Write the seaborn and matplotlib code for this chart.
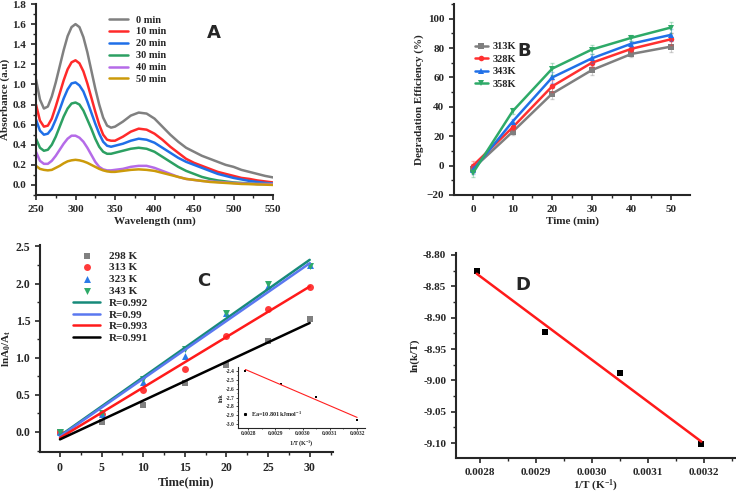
import numpy as np
import pandas as pd
import matplotlib
matplotlib.use("Agg")
import matplotlib.pyplot as plt
import seaborn as sns
from matplotlib.ticker import AutoMinorLocator

sns.set_style("ticks")
plt.rcParams['font.family'] = ['Liberation Serif', 'DejaVu Serif']
plt.rcParams['font.weight'] = 'bold'
plt.rcParams['axes.labelweight'] = 'bold'
plt.rcParams['mathtext.default'] = 'regular'

# ---------- Panel A data ----------
wavelength = list(range(250, 350, 5)) + list(range(350, 551, 10))
abs_0 = [1.05,0.85,0.76,0.78,0.88,1.02,1.18,1.34,1.48,1.57,1.60,1.57,1.47,1.32,1.14,0.96,0.80,0.67,0.59,0.57,
         0.58,0.63,0.69,0.72,0.71,0.66,0.58,0.50,0.43,0.37,0.33,0.29,0.26,0.23,0.20,0.18,0.15,0.13,0.11,0.09,0.075]
abs_10 = [0.80,0.64,0.58,0.59,0.66,0.78,0.91,1.04,1.15,1.22,1.24,1.21,1.13,1.01,0.87,0.73,0.60,0.50,0.45,0.44,
          0.44,0.48,0.53,0.56,0.55,0.51,0.45,0.38,0.32,0.26,0.22,0.19,0.16,0.13,0.11,0.09,0.07,0.06,0.045,0.035,0.025]
abs_20 = [0.65,0.54,0.50,0.51,0.56,0.65,0.75,0.86,0.95,1.01,1.02,0.99,0.93,0.83,0.72,0.61,0.51,0.43,0.39,0.38,
          0.39,0.41,0.44,0.46,0.45,0.42,0.37,0.32,0.27,0.23,0.20,0.17,0.14,0.11,0.09,0.07,0.055,0.04,0.03,0.02,0.015]
abs_30 = [0.46,0.37,0.34,0.35,0.40,0.48,0.58,0.68,0.76,0.81,0.82,0.80,0.74,0.65,0.56,0.46,0.38,0.33,0.31,0.31,
          0.32,0.34,0.36,0.37,0.36,0.33,0.28,0.23,0.18,0.14,0.11,0.08,0.06,0.045,0.035,0.025,0.02,0.015,0.01,0.01,0.01]
abs_40 = [0.33,0.24,0.21,0.21,0.24,0.29,0.35,0.41,0.46,0.49,0.49,0.47,0.43,0.37,0.30,0.23,0.18,0.155,0.145,0.145,
          0.15,0.16,0.18,0.19,0.19,0.17,0.14,0.11,0.08,0.06,0.05,0.04,0.035,0.03,0.025,0.02,0.015,0.012,0.01,0.01,0.01]
abs_50 = [0.19,0.16,0.15,0.145,0.15,0.17,0.19,0.215,0.235,0.245,0.25,0.245,0.235,0.22,0.20,0.18,0.16,0.145,0.135,0.13,
          0.13,0.14,0.15,0.155,0.15,0.14,0.12,0.10,0.08,0.06,0.05,0.04,0.03,0.025,0.02,0.015,0.01,0.008,0.005,0.003,0.0]
a_labels = ["0 min","10 min","20 min","30 min","40 min","50 min"]
a_colors = ["#808080","#ff2a2a","#1f6fe8","#2ca062","#b56be8","#cc9a0a"]

# ---------- Panel B data ----------
b_time = [0,10,20,30,40,50]
b_313 = [-2,23,49,65,76,81]
b_328 = [0,26,54,70,79.5,86]
b_343 = [-3,30,60,73,83,89]
b_358 = [-5,37,66,79,87,94]
b_err = [3,2,4,3,2,4]
b_labels = ["313K","328K","343K","358K"]
b_colors = ["#7f7f7f","#ff3030","#2070e8","#2eaa68"]
b_markers = ["s","o","^","v"]

# ---------- Panel C data ----------
c_time = [0,5,10,15,20,25,30]
c_298 = [0,0.13,0.37,0.66,0.90,1.22,1.52]
c_313 = [0,0.24,0.56,0.85,1.30,1.66,1.96]
c_323 = [0,0.24,0.68,1.03,1.60,1.97,2.25]
c_343 = [0,0.26,0.71,1.12,1.61,1.99,2.24]
c_labels = ["298 K","313 K","323 K","343 K"]
c_pt_colors = ["#808080","#ff3a3a","#2a7ae8","#2eaa68"]
c_markers = ["s","o","^","v"]
fit_labels = ["R=0.992","R=0.99","R=0.993","R=0.991"]
fit_colors = ["#178a7a","#5a78f0","#ff1a1a","#000000"]
fit_slope = [0.079,0.0778,0.068,0.0523]
fit_icpt = [-0.05,-0.06,-0.08,-0.10]
fit_x = [0,30]

# inset
ins_x = [0.00279,0.00292,0.00305,0.00320]
ins_y = [-2.40,-2.55,-2.69,-2.95]

# ---------- Panel D data ----------
d_x = [0.002794,0.002916,0.003049,0.003195]
d_y = [-8.826,-8.923,-8.989,-9.101]

W, H = 736, 496
fig = plt.figure(figsize=(W/100, H/100), dpi=100)
def ax_px(l, t, r, b):
    return fig.add_axes([l/W, 1-b/H, (r-l)/W, (b-t)/H])

def style(ax, fs=8):
    for s in ["top","right"]:
        ax.spines[s].set_visible(False)
    for s in ["left","bottom"]:
        ax.spines[s].set_linewidth(1.5)
    ax.tick_params(direction="out", width=1.2, length=3.5, labelsize=fs)
    ax.tick_params(which="minor", direction="out", width=1, length=2)
    ax.xaxis.set_minor_locator(AutoMinorLocator(2))
    ax.yaxis.set_minor_locator(AutoMinorLocator(2))
    for lab in ax.get_xticklabels()+ax.get_yticklabels():
        lab.set_fontweight("bold")

# ---- A ----
axA = ax_px(36, 4, 273, 195)
for ys, lab, c in zip([abs_0,abs_10,abs_20,abs_30,abs_40,abs_50], a_labels, a_colors):
    sns.lineplot(x=wavelength, y=ys, ax=axA, color=c, lw=1.8, label=lab)
axA.set_xlim(250, 550); axA.set_ylim(-0.1, 1.8)
axA.set_xticks(range(250, 551, 50)); axA.set_yticks(np.arange(0, 1.81, 0.2))
axA.set_yticklabels([f"{v:.1f}" for v in np.arange(0, 1.81, 0.2)])
axA.set_xlabel("Wavelength (nm)", fontsize=8, labelpad=2)
axA.set_ylabel("Absorbance (a.u)", fontsize=8, labelpad=2)
axA.legend(loc="upper left", bbox_to_anchor=(0.27, 0.99), frameon=False,
           handlelength=1.8, labelspacing=0.25, prop={"weight":"bold","size":7.5})
axA.text(0.72, 0.82, "A", transform=axA.transAxes, fontsize=13, fontweight="bold", family="DejaVu Sans")
style(axA)

# ---- B ----
axB = ax_px(454, 4, 690, 195)
for ys, lab, c, m in zip([b_313,b_328,b_343,b_358], b_labels, b_colors, b_markers):
    axB.errorbar(b_time, ys, yerr=b_err, fmt="none", ecolor=c, alpha=0.35, capsize=1.5, lw=0.8)
    sns.lineplot(x=b_time, y=ys, ax=axB, color=c, marker=m, markersize=4, markeredgewidth=0, lw=1.8, label=lab)
axB.set_xlim(-4.8, 54.8); axB.set_ylim(-20, 110)
axB.set_xticks(range(0, 51, 10)); axB.set_yticks(range(-20, 101, 20))
axB.set_xlabel("Time (min)", fontsize=8, labelpad=2)
axB.set_ylabel("Degradation Efficiency (%)", fontsize=8, labelpad=2)
axB.legend(loc="upper left", bbox_to_anchor=(0.05, 0.85), frameon=False,
           handlelength=1.2, handletextpad=0.5, labelspacing=0.3, prop={"weight":"bold","size":7.5})
axB.text(0.27, 0.73, "B", transform=axB.transAxes, fontsize=13, fontweight="bold", family="DejaVu Sans")
style(axB)

# ---- C ----
axC = ax_px(40, 245, 333, 452)
for ys, lab, c, m in zip([c_298,c_313,c_323,c_343], c_labels, c_pt_colors, c_markers):
    sns.scatterplot(x=c_time, y=ys, ax=axC, color=c, marker=m, s=25, linewidth=0, label=lab)
fx = np.array(fit_x)
for s, b, lab, c in zip(fit_slope, fit_icpt, fit_labels, fit_colors):
    sns.lineplot(x=fx, y=b + s*fx, ax=axC, color=c, lw=1.8, label=lab)
axC.set_xlim(-2.4, 32.8); axC.set_ylim(-0.27, 2.52)
axC.set_xticks(range(0, 31, 5)); axC.set_yticks(np.arange(0, 2.51, 0.5))
axC.set_yticklabels([f"{v:.1f}" for v in np.arange(0, 2.51, 0.5)])
axC.set_xlabel("Time(min)", fontsize=9, labelpad=2)
axC.set_ylabel(r"lnA$_0$/A$_t$", fontsize=8, labelpad=2)
axC.legend(loc="upper left", bbox_to_anchor=(0.08, 1.02), frameon=False,
           handlelength=2.4, labelspacing=0.18, prop={"weight":"bold","size":8})
axC.text(0.535, 0.8, "C", transform=axC.transAxes, fontsize=13, fontweight="bold", family="DejaVu Sans")
style(axC, 8.5)

# inset
axI = ax_px(238, 367, 365, 428)
sns.scatterplot(x=ins_x, y=ins_y, ax=axI, color="black", marker="s", s=3, linewidth=0)
ip = np.polyfit(ins_x, ins_y, 1)
ixx = np.array([ins_x[0], ins_x[-1]])
sns.lineplot(x=ixx, y=np.polyval(ip, ixx), ax=axI, color="#ff2020", lw=0.8)
axI.set_xlim(0.002763, 0.003229); axI.set_ylim(-3.045, -2.355)
axI.set_xticks([0.0028,0.0029,0.0030,0.0031,0.0032])
axI.set_xticklabels(["0.0028","0.0029","0.0030","0.0031","0.0032"])
axI.set_yticks(np.arange(-3.0, -2.35, 0.1))
axI.set_yticklabels([f"{v:.1f}" for v in np.arange(-3.0, -2.35, 0.1)])
axI.set_xlabel(r"1/T(K$^{-1}$)", fontsize=4.5, labelpad=1)
axI.set_ylabel("lnk", fontsize=4.5, labelpad=1)
axI.plot([0.00279], [-2.89], "s", color="black", ms=1.2)
axI.text(0.00281, -2.89, r"Ea=10.801kJmol$^{-1}$", fontsize=4.5, va="center", fontweight="bold")
style(axI, 4)
for s in ["left","bottom"]:
    axI.spines[s].set_linewidth(0.8)
axI.tick_params(length=1.5, width=0.6, pad=1)
axI.tick_params(which="minor", length=1, width=0.5)
axI.patch.set_alpha(0)

# ---- D ----
axD = ax_px(456, 253, 736, 458)
sns.scatterplot(x=d_x, y=d_y, ax=axD, color="black", marker="s", s=20, linewidth=0)
dp = np.polyfit(d_x, d_y, 1)
dxx = np.array([d_x[0], d_x[-1]])
sns.lineplot(x=dxx, y=np.polyval(dp, dxx), ax=axD, color="#ff1a1a", lw=1.8)
axD.set_xlim(0.002757, 0.003257); axD.set_ylim(-9.1237, -8.797)
axD.set_xticks([0.0028,0.0029,0.0030,0.0031,0.0032])
axD.set_xticklabels(["0.0028","0.0029","0.0030","0.0031","0.0032"])
axD.set_yticks([-8.80,-8.85,-8.90,-8.95,-9.00,-9.05,-9.10])
axD.set_yticklabels(["-8.80","-8.85","-8.90","-8.95","-9.00","-9.05","-9.10"])
axD.set_xlabel(r"1/T (K$^{-1}$)", fontsize=8, labelpad=1)
axD.set_ylabel("ln(k/T)", fontsize=8, labelpad=2)
axD.text(0.0028625, -8.856, "D", fontsize=13, fontweight="bold", family="DejaVu Sans")
style(axD, 8)

fig.savefig("out.png", dpi=100)
